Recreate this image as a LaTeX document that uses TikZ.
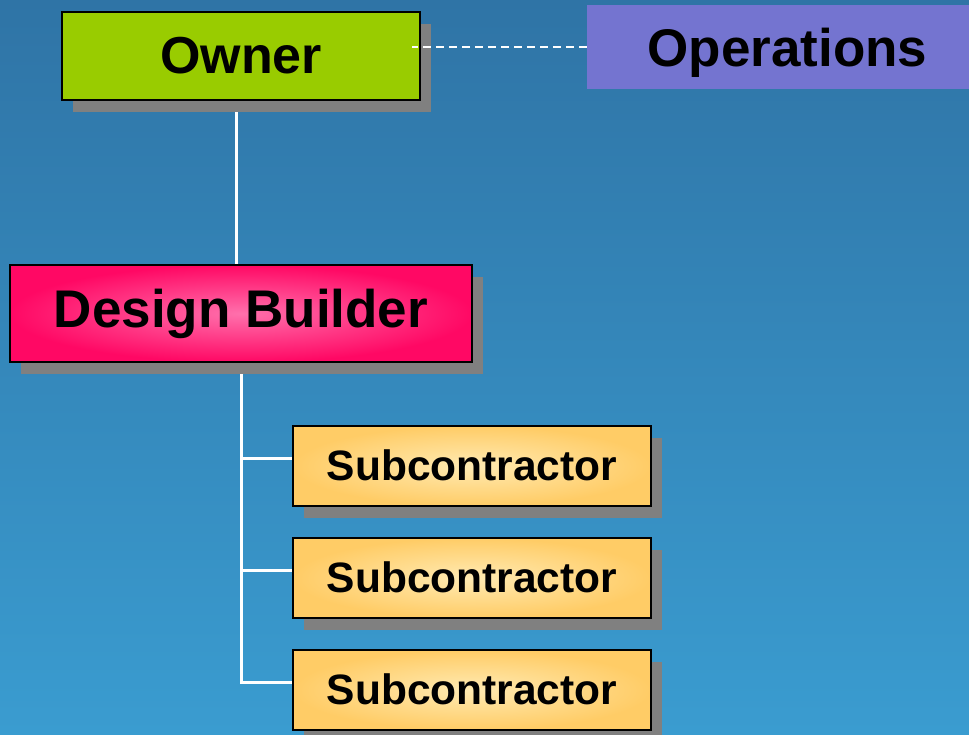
\documentclass[tikz,border=0pt]{standalone}
\usepackage{fontspec}
\setmainfont{Liberation Sans}
\usepackage{xcolor}
\definecolor{ColSky}{RGB}{47,116,166}
\definecolor{ColSea}{RGB}{58,156,208}
\definecolor{ColOwner}{RGB}{153,204,0}
\definecolor{ColOps}{RGB}{116,116,208}
\definecolor{ColDB}{RGB}{255,8,100}
\definecolor{ColDBc}{RGB}{255,112,172}
\definecolor{ColSub}{RGB}{255,204,102}
\definecolor{ColSubc}{RGB}{255,234,178}
\definecolor{ColShadow}{RGB}{128,128,128}
\usepackage{tikz}
\usetikzlibrary{shadows}
\pgfdeclarelayer{sea}
\pgfdeclarelayer{lines}
\pgfsetlayers{sea,lines,main}
\tikzstyle{Box}=[rectangle,draw=black,line width=2pt,inner sep=0pt,
drop shadow={shadow xshift=11pt,shadow yshift=-12pt,fill=ColShadow,opacity=1}]
\tikzstyle{OwnerBox}=[Box,fill=ColOwner,minimum width=358pt,minimum height=88pt,
font=\bfseries\fontsize{52}{60}\selectfont]
\tikzstyle{DBBox}=[Box,inner color=ColDBc,outer color=ColDB,minimum width=462pt,
minimum height=97pt,font=\bfseries\fontsize{53}{60}\selectfont]
\tikzstyle{SubBox}=[Box,inner color=ColSubc,outer color=ColSub,minimum width=358pt,
minimum height=80pt,text depth=0.16em,font=\bfseries\fontsize{42.5}{50}\selectfont]
\tikzstyle{OpsBox}=[rectangle,fill=ColOps,inner sep=0pt,minimum width=401pt,
minimum height=84pt,text depth=0pt,font=\bfseries\fontsize{53}{60}\selectfont]
\tikzstyle{Edge}=[draw=white,line width=3pt]
\tikzstyle{Link}=[draw=white,line width=1.5pt,dash pattern=on 8pt off 5pt]

\begin{document}
\begin{tikzpicture}[x=1pt,y=-1pt]
    \useasboundingbox(0,0)rectangle(969,734);
    \clip(0,0)rectangle(969,734);
    \begin{pgfonlayer}{sea}
        \fill[top color=ColSky,bottom color=ColSea](0,0)rectangle(969,734);
    \end{pgfonlayer}
    \node[OwnerBox](owner)at(241,56){Owner};
    \node[OpsBox](ops)at(787.5,47){Operations};
    \node[DBBox](db)at(241,313.5){Design Builder};
    \node[SubBox](sub1)at(472,466){Subcontractor};
    \node[SubBox](sub2)at(472,578){Subcontractor};
    \node[SubBox](sub3)at(472,690){Subcontractor};
    \begin{pgfonlayer}{lines}
        \draw[Edge]([xshift=-5pt]owner.south)--([xshift=-5pt]db.north);
        \draw[Edge](db.south)|-([yshift=8pt]sub3.west);
        \draw[Edge]([yshift=8pt]sub1.west)--([yshift=8pt]sub1.west-|db.south);
        \draw[Edge]([yshift=8pt]sub2.west)--([yshift=8pt]sub2.west-|db.south);
    \end{pgfonlayer}
    \draw[Link](ops.west)--([xshift=-9pt]ops.west-|owner.east);
\end{tikzpicture}
\end{document}
